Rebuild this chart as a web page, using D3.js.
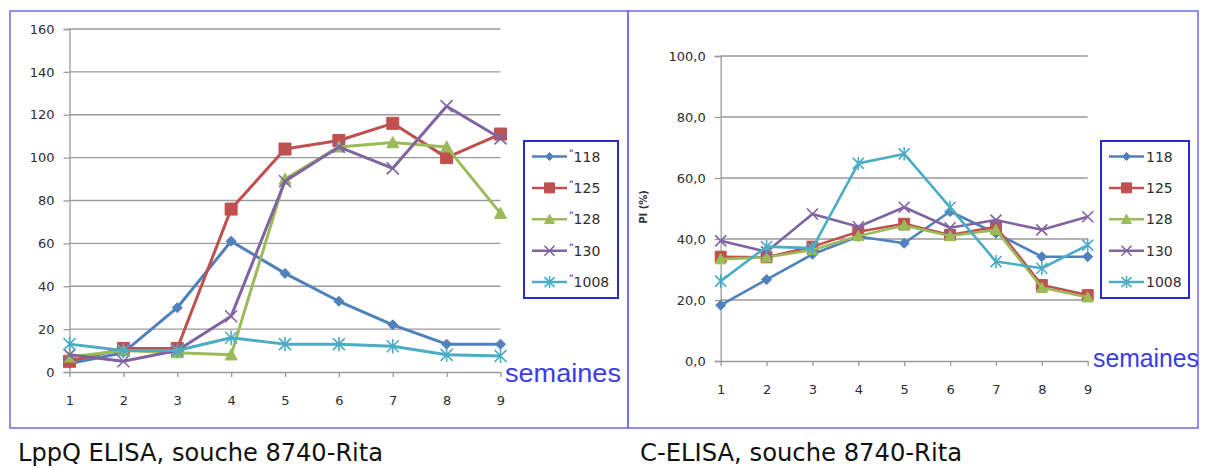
<!DOCTYPE html>
<html><head><meta charset="utf-8">
<script src="https://cdn.jsdelivr.net/npm/d3@7/dist/d3.min.js"></script>
<style>body{margin:0;background:#fff}svg{display:block}</style>
</head><body>
<script>
const weeks = [1,2,3,4,5,6,7,8,9];
const seriesNames = ["118","125","128","130","1008"];
const seriesColors = ["#4F81BD","#C0504D","#9BBB59","#8064A2","#4BACC6"];
const seriesMarkers = ["diamond","square","triangle","x","star"];
// LppQ ELISA
const lppq118  = [4, 9, 30, 61, 46, 33, 22, 13, 13];
const lppq125  = [5, 11, 11, 76, 104, 108, 116, 100, 111];
const lppq128  = [7, 10, 9, 8, 90, 105, 107, 105, 74];
const lppq130  = [8, 5, 10, 26, 89, 105, 95, 124, 109];
const lppq1008 = [13, 10, 10, 16, 13, 13, 12, 8, 7.5];
// C-ELISA
const celisa118  = [18.3, 26.7, 35, 40.8, 38.6, 49, 41.9, 34.2, 34.2];
const celisa125  = [34.2, 34, 37.5, 42.4, 45, 41.3, 44, 24.9, 21.6];
const celisa128  = [33.4, 34, 36.4, 41, 44.4, 41, 43, 24, 20.9];
const celisa130  = [39.4, 35.8, 48.2, 44, 50.4, 43.7, 46.2, 43, 47.3];
const celisa1008 = [26.2, 37.5, 37, 64.8, 67.9, 50.4, 32.6, 30.4, 38];
const leftYTicks = [0,20,40,60,80,100,120,140,160];
const rightYTicks = [0,20,40,60,80,100];
const xLabel = "semaines";
const rightYLabel = "PI (%)";
const leftCaption = "LppQ ELISA, souche 8740-Rita";
const rightCaption = "C-ELISA, souche 8740-Rita";

const W = 1205, H = 468;
const svg = d3.select("body").append("svg").attr("width", W).attr("height", H);
svg.append("rect").attr("width", W).attr("height", H).attr("fill", "#fff");

// panel frames
svg.append("rect").attr("x", 10).attr("y", 11).attr("width", 618).attr("height", 417)
  .attr("fill", "none").attr("stroke", "#6b6be6").attr("stroke-width", 1.5);
svg.append("rect").attr("x", 628).attr("y", 11).attr("width", 570).attr("height", 417)
  .attr("fill", "none").attr("stroke", "#6b6be6").attr("stroke-width", 1.5);

function markerPath(type, s) {
  const h = s / 2;
  if (type === "diamond") return `M0,${-h}L${h},0L0,${h}L${-h},0Z`;
  if (type === "square") return `M${-h},${-h}H${h}V${h}H${-h}Z`;
  if (type === "triangle") return `M0,${-h}L${h},${h*0.85}L${-h},${h*0.85}Z`;
  if (type === "x") return `M${-h},${-h}L${h},${h}M${-h},${h}L${h},${-h}`;
  if (type === "star") return `M${-h},${-h}L${h},${h}M${-h},${h}L${h},${-h}M0,${-h*1.2}V${h*1.2}`;
}
function drawMarker(g, type, color, s, x, y) {
  const filled = type !== "x" && type !== "star";
  g.append("path").attr("d", markerPath(type, s)).attr("transform", `translate(${x},${y})`)
    .attr("fill", filled ? color : "none").attr("stroke", color)
    .attr("stroke-width", filled ? 1 : 1.6);
}

function drawChart(opt) {
  const g = svg.append("g");
  const x = d3.scalePoint().domain(weeks).range(opt.xr);
  const y = d3.scaleLinear().domain(opt.yd).range(opt.yr);
  // grid
  g.selectAll(".grid").data(opt.yTicks.filter(v => v > 0)).join("line")
    .attr("x1", opt.xr[0]).attr("x2", opt.xr[1])
    .attr("y1", d => y(d)).attr("y2", d => y(d))
    .attr("stroke", "#9a9a9a").attr("stroke-width", 1.3);
  // y axis
  const ya = g.append("g").attr("transform", `translate(${opt.xr[0]},0)`)
    .call(d3.axisLeft(y).tickValues(opt.yTicks).tickFormat(opt.fmt).tickSize(6).tickPadding(opt.yPad));
  ya.select(".domain").attr("stroke", "#9a9a9a").attr("stroke-width", 1.3);
  ya.selectAll(".tick line").attr("stroke", "#9a9a9a").attr("stroke-width", 1.3);
  ya.selectAll("text").attr("font-family", "DejaVu Sans").attr("font-size", 13).attr("fill", "#2e2e2e");
  // x axis
  const xa = g.append("g").attr("transform", `translate(0,${opt.yr[0]})`)
    .call(d3.axisBottom(x).tickSize(5).tickPadding(opt.xPad).tickSizeOuter(0));
  xa.select(".domain").attr("stroke", "#9a9a9a").attr("stroke-width", 1.3);
  xa.selectAll(".tick line").attr("stroke", "#9a9a9a").attr("stroke-width", 1.3);
  xa.selectAll("text").attr("font-family", "DejaVu Sans").attr("font-size", 13).attr("fill", "#2e2e2e");
  // series
  const line = d3.line().x((d, i) => x(weeks[i])).y(d => y(d));
  opt.series.forEach((vals, k) => {
    g.append("path").datum(vals).attr("d", line).attr("fill", "none")
      .attr("stroke", seriesColors[k]).attr("stroke-width", opt.lw).attr("stroke-linejoin", "round");
    vals.forEach((v, i) => drawMarker(g, seriesMarkers[k], seriesColors[k], opt.ms[k], x(weeks[i]), y(v)));
  });
  // legend
  const lg = g.append("g");
  lg.append("rect").attr("x", opt.leg.x).attr("y", 141).attr("width", opt.leg.w).attr("height", 157)
    .attr("fill", "#fff").attr("stroke", "#2a2ad0").attr("stroke-width", 2);
  seriesNames.forEach((n, k) => {
    const ly = 156.5 + k * 31.4;
    const lx0 = opt.leg.x + 8, lx1 = opt.leg.x + 43;
    lg.append("line").attr("x1", lx0).attr("x2", lx1).attr("y1", ly).attr("y2", ly)
      .attr("stroke", seriesColors[k]).attr("stroke-width", 2.5);
    drawMarker(lg, seriesMarkers[k], seriesColors[k], [8, 10, 10, 10, 10][k], (lx0 + lx1) / 2, ly);
    const t = lg.append("text").attr("x", lx1 + opt.leg.tx).attr("y", ly + 5)
      .attr("font-family", "DejaVu Sans").attr("font-size", 14).attr("fill", "#2e2e2e");
    if (opt.leg.prefix) t.append("tspan").attr("font-size", 10).attr("dy", -4).text("\u02BA");
    t.append("tspan").attr("dy", opt.leg.prefix ? 4 : 0).text(n);
  });
  // x label
  g.append("text").attr("x", opt.sem.x).attr("y", opt.sem.y).attr("font-family", "Liberation Sans, Arial, sans-serif")
    .attr("font-size", 26).attr("fill", "#3b3bee").attr("textLength", opt.sem.w).attr("lengthAdjust", "spacingAndGlyphs")
    .text(xLabel);
  return g;
}

drawChart({
  xr: [69.5, 500.5], yd: [0, 160], yr: [372, 29], yTicks: leftYTicks,
  fmt: d3.format("d"), yPad: 9, xPad: 19, lw: 3,
  series: [lppq118, lppq125, lppq128, lppq130, lppq1008],
  ms: [10, 12, 12, 12, 12],
  leg: {x: 524, w: 94, tx: 2, prefix: true},
  sem: {x: 505, y: 382, w: 116}
});

const right = drawChart({
  xr: [720.7, 1087.7], yd: [0, 100], yr: [361, 56], yTicks: rightYTicks,
  fmt: d => d3.format(".1f")(d).replace(".", ","), yPad: 9, xPad: 19, lw: 2.6,
  series: [celisa118, celisa125, celisa128, celisa130, celisa1008],
  ms: [10, 11, 11, 11, 11],
  leg: {x: 1101, w: 88, tx: 2, prefix: false},
  sem: {x: 1093, y: 367, w: 106}
});
right.append("text").attr("transform", "translate(647,207) rotate(-90)").attr("text-anchor", "middle")
  .attr("font-family", "DejaVu Sans").attr("font-weight", "bold").attr("font-size", 10).attr("fill", "#333")
  .text(rightYLabel);

// captions
svg.append("text").attr("x", 18).attr("y", 461).attr("font-family", "Liberation Sans Narrow, DejaVu Sans Condensed, sans-serif")
  .attr("font-size", 25).attr("fill", "#111").attr("textLength", 365).attr("lengthAdjust", "spacingAndGlyphs").text(leftCaption);
svg.append("text").attr("x", 640).attr("y", 461).attr("font-family", "Liberation Sans Narrow, DejaVu Sans Condensed, sans-serif")
  .attr("font-size", 25).attr("fill", "#111").attr("textLength", 322).attr("lengthAdjust", "spacingAndGlyphs").text(rightCaption);
</script>
</body></html>
